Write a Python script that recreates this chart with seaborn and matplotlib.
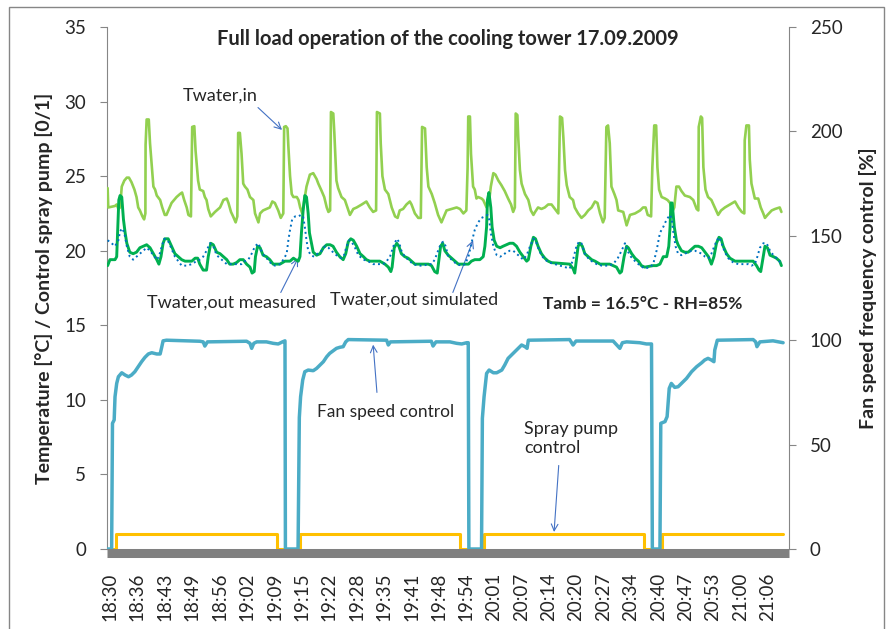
import matplotlib
matplotlib.use("Agg")
import matplotlib.pyplot as plt
import seaborn as sns
from matplotlib.patches import Rectangle

# time in minutes after 18:30
t_in = [-0.55, -0.4, 1.2, 1.6, 2.0, 2.4, 2.8, 3.4, 4.0, 4.5, 5.1, 5.8, 6.3, 6.7, 7.1, 7.7, 8.1, 8.4, 8.45, 8.7,
        9.2, 9.5, 10.3, 10.7, 11.1, 11.9, 12.4, 13.0, 13.4, 14.6, 15.8, 16.6, 17.1, 17.6, 18.2, 18.6, 19.2, 19.5,
        20.0, 20.3, 20.9, 21.3, 22.1, 22.5, 22.9, 23.3, 23.9, 24.9, 26.1, 26.9, 27.7, 28.1, 28.7, 29.2, 29.8,
        30.2, 30.4, 30.8, 31.2, 31.6, 32.0, 32.6, 33.2, 34.0, 34.4, 35.2, 35.6, 36.3, 37.1, 37.9, 38.5, 39.1,
        39.9, 40.5, 41.1, 41.3, 41.7, 42.1, 42.3, 42.7, 43.1, 43.5, 44.3, 44.7, 45.1, 45.6, 46.6, 47.4, 48.2,
        49.0, 49.4, 50.2, 50.8, 51.4, 51.8, 52.2, 52.4, 52.95, 53.2, 53.7, 54.1, 54.9, 55.7, 56.3, 56.9, 57.7,
        58.5, 59.7, 60.8, 61.6, 62.4, 63.1, 63.3, 64.0, 64.2, 64.6, 65.2, 66.0, 66.8, 67.6, 68.2, 68.7, 69.5,
        70.3, 71.1, 71.5, 72.3, 73.1, 73.7, 74.0, 74.7, 75.1, 75.5, 76.3, 77.0, 77.8, 78.6, 79.8, 81.0, 82.2,
        83.0, 83.8, 84.5, 84.8, 84.95, 85.35, 85.6, 86.1, 86.5, 86.9, 87.3, 88.1, 88.5, 89.3, 89.85, 90.3, 90.9,
        91.4, 92.1, 92.8, 93.6, 94.4, 95.1, 95.6, 96.0, 96.2, 96.6, 96.8, 97.2, 97.6, 98.4, 99.2, 99.8, 100.4,
        100.8, 101.5, 102.3, 103.1, 103.9, 104.7, 105.5, 106.3, 106.5, 106.7, 107.2, 107.5, 107.9, 108.3, 109.0,
        109.8, 110.2, 111.0, 111.8, 112.6, 113.4, 114.2, 115.0, 115.6, 116.2, 116.9, 117.3, 117.7, 118.1, 118.5,
        118.9, 119.6, 120.1, 120.5, 121.7, 122.5, 123.3, 124.5, 125.7, 126.4, 127.0, 127.5, 128.3, 128.6,
        129.05, 129.5, 129.8, 130.2, 130.8, 131.6, 132.2, 132.8, 133.3, 133.8, 134.3, 134.9, 135.5, 136.3,
        137.5, 138.3, 139.1, 139.5, 139.6, 140.1, 140.4, 140.7, 141.2, 141.8, 142.6, 143.4, 144.2, 144.9, 145.8,
        147.0, 148.2, 149.0, 149.8, 150.4, 150.5, 150.9, 151.5, 151.7, 152.1, 152.9, 153.7, 154.3, 154.9, 155.3,
        155.9, 156.9, 157.7, 158.8, 159.2]
T_in = [24.2, 22.9, 23.0, 23.1, 22.8, 22.9, 24.3, 24.7, 24.9, 24.9, 24.6, 24.1, 23.6, 22.9, 22.7, 22.3, 22.1, 22.5,
        27.1, 28.8, 28.8, 27.2, 24.3, 24.1, 23.7, 23.4, 22.9, 22.4, 22.4, 23.2, 23.6, 23.8, 23.9, 23.4, 22.9,
        22.4, 22.3, 28.3, 28.35, 26.7, 24.7, 24.1, 24.0, 23.6, 23.4, 22.8, 22.3, 22.6, 22.9, 23.4, 23.5, 23.2,
        22.6, 22.3, 21.9, 22.3, 27.9, 27.9, 26.5, 24.5, 24.3, 24.1, 23.6, 23.4, 22.5, 21.9, 22.5, 22.7, 22.8,
        22.9, 23.3, 23.2, 22.7, 22.2, 22.5, 28.3, 28.35, 28.2, 27.0, 25.0, 23.8, 23.6, 23.6, 23.4, 22.9, 22.5,
        24.3, 25.1, 25.2, 24.8, 24.5, 24.0, 23.6, 22.9, 22.6, 22.7, 29.3, 29.2, 27.9, 24.7, 24.2, 23.6, 23.4,
        22.9, 22.4, 22.8, 22.9, 23.1, 23.3, 22.9, 22.6, 22.7, 29.3, 29.2, 27.2, 25.0, 24.1, 23.8, 22.9, 22.3,
        22.2, 22.7, 22.8, 23.1, 23.3, 23.1, 22.5, 22.2, 22.2, 28.3, 28.2, 25.6, 24.3, 23.8, 23.2, 22.4, 21.9,
        22.7, 22.8, 22.9, 22.8, 22.5, 22.7, 25.6, 29.0, 29.0, 26.5, 24.3, 24.1, 23.5, 23.6, 23.5, 23.4, 22.9,
        23.2, 24.3, 25.2, 25.1, 24.7, 24.4, 24.0, 23.5, 23.1, 22.6, 22.9, 29.2, 29.1, 27.6, 25.4, 24.5, 23.8,
        23.4, 22.7, 22.4, 22.6, 22.9, 22.8, 22.9, 23.1, 23.1, 22.8, 22.5, 25.6, 29.0, 28.9, 27.6, 25.4, 24.4,
        23.6, 23.4, 22.9, 22.5, 22.2, 22.4, 22.7, 22.9, 23.3, 23.2, 22.5, 21.9, 22.2, 28.3, 28.4, 27.2, 24.3,
        23.8, 23.4, 22.7, 22.6, 21.7, 22.4, 22.5, 22.7, 22.9, 22.9, 22.4, 22.3, 25.6, 28.4, 28.4, 25.6, 24.1,
        23.6, 23.5, 23.4, 23.2, 22.6, 22.9, 24.3, 24.3, 24.0, 23.7, 23.6, 23.4, 22.8, 22.7, 28.3, 29.0, 28.9,
        25.6, 24.1, 23.6, 23.4, 22.9, 22.4, 22.7, 22.9, 23.1, 23.3, 22.9, 22.6, 22.5, 27.4, 28.4, 28.4, 26.1,
        24.5, 23.5, 23.5, 22.9, 22.5, 22.2, 22.4, 22.7, 22.8, 22.9, 22.6]

t_out = [-0.55, 0.0, 1.2, 1.6, 1.8, 2.1, 2.4, 2.8, 3.2, 3.6, 4.0, 4.7, 5.5, 6.3, 7.1, 7.9, 8.7, 9.5, 10.3, 11.1,
         11.6, 12.1, 12.6, 13.0, 13.8, 14.6, 15.4, 16.2, 17.0, 17.8, 19.4, 20.2, 20.8, 21.3, 22.1, 22.9, 23.3,
         23.9, 24.5, 25.3, 26.1, 26.9, 27.7, 28.4, 29.2, 30.0, 30.8, 31.6, 32.4, 33.2, 33.7, 34.2, 34.5, 35.0,
         35.6, 36.3, 37.1, 37.9, 38.7, 39.5, 40.3, 41.5, 42.7, 43.5, 44.0, 44.65, 45.05, 45.4, 45.8, 46.2, 46.6,
         47.0, 47.3, 47.65, 48.2, 49.0, 49.8, 50.6, 51.4, 52.2, 52.9, 53.7, 54.5, 55.3, 55.9, 56.5, 57.1, 57.7,
         58.5, 59.3, 60.1, 60.8, 61.6, 64.0, 65.2, 66.0, 66.6, 66.9, 67.4, 68.0, 68.5, 69.1, 69.9, 70.7, 71.5,
         72.3, 75.5, 76.25, 77.0, 77.6, 78.0, 78.4, 78.9, 79.4, 80.2, 81.0, 81.8, 82.6, 85.0, 85.7, 86.5, 87.7,
         88.5, 88.9, 89.3, 89.5, 89.85, 90.3, 90.6, 91.1, 91.7, 92.5, 93.2, 94.0, 94.8, 95.6, 96.4, 97.2, 98.0,
         98.8, 99.2, 99.8, 100.4, 100.9, 101.5, 102.3, 103.1, 103.9, 104.7, 109.0, 109.8, 110.2, 110.6, 111.0,
         111.4, 112.0, 112.6, 113.4, 114.2, 115.0, 116.2, 118.5, 119.3, 120.1, 120.9, 121.3, 121.9, 122.5, 122.9,
         123.7, 124.5, 125.3, 126.0, 126.8, 128.8, 129.6, 130.4, 131.2, 132.0, 132.5, 132.8, 133.0, 133.3, 133.8,
         134.3, 134.7, 135.5, 136.3, 137.1, 137.9, 138.7, 139.5, 140.3, 141.1, 141.9, 142.6, 143.2, 143.8, 144.4,
         144.9, 145.4, 146.2, 147.0, 148.2, 152.5, 153.3, 153.9, 154.3, 154.9, 155.3, 155.9, 156.5, 157.3, 158.0,
         158.8, 159.2]
T_out = [19.0, 19.4, 19.4, 19.6, 21.2, 23.4, 23.7, 23.6, 22.1, 21.2, 20.5, 19.9, 19.8, 19.9, 20.2, 20.3, 20.4, 20.2,
         19.8, 19.4, 19.1, 19.6, 20.5, 20.8, 20.8, 20.3, 19.8, 19.6, 19.4, 19.3, 19.3, 19.5, 19.5, 19.1, 18.7,
         18.7, 19.6, 20.5, 20.4, 19.9, 19.8, 19.6, 19.4, 19.1, 19.1, 19.2, 19.4, 19.4, 19.1, 18.9, 18.5, 18.6,
         19.6, 20.3, 20.2, 19.7, 19.6, 19.4, 19.1, 19.1, 19.1, 19.3, 19.3, 19.5, 19.4, 19.3, 19.6, 21.2, 22.7,
         23.7, 23.6, 22.5, 21.2, 20.7, 19.9, 19.7, 19.8, 20.2, 20.4, 20.4, 20.3, 19.9, 19.6, 19.4, 19.8, 20.6,
         20.8, 20.7, 20.3, 19.8, 19.6, 19.4, 19.3, 19.3, 19.1, 18.9, 18.6, 18.9, 20.2, 20.5, 20.3, 19.8, 19.6,
         19.5, 19.3, 19.1, 19.1, 19.0, 18.6, 18.5, 19.4, 20.3, 20.5, 20.0, 19.7, 19.5, 19.3, 19.1, 19.1, 19.3,
         19.4, 19.4, 19.6, 20.3, 21.6, 23.4, 23.9, 22.9, 21.6, 20.7, 20.3, 20.2, 20.3, 20.4, 20.5, 20.5, 20.3,
         19.9, 19.6, 19.3, 19.4, 20.3, 20.9, 20.8, 20.3, 19.8, 19.5, 19.3, 19.2, 19.1, 18.8, 18.5, 19.4, 20.3,
         20.5, 20.3, 19.8, 19.6, 19.4, 19.3, 19.1, 19.1, 19.0, 18.9, 18.5, 18.6, 19.6, 20.3, 20.2, 19.8, 19.5,
         19.3, 19.0, 18.9, 19.0, 19.0, 19.1, 19.6, 19.6, 20.3, 21.6, 23.2, 23.2, 21.6, 20.7, 20.4, 20.0, 19.9,
         19.9, 20.1, 20.3, 20.3, 20.2, 19.9, 19.6, 19.1, 19.6, 20.5, 20.9, 20.8, 20.3, 19.8, 19.5, 19.3, 19.3,
         19.0, 18.7, 18.6, 19.6, 20.3, 20.2, 19.7, 19.6, 19.5, 19.3, 19.0]

t_sim = [-0.55, 0.4, 1.2, 2.0, 2.4, 2.9, 3.4, 4.0, 4.7, 5.5, 6.3, 7.1, 7.9, 8.7, 9.5, 10.3, 11.1, 11.6, 12.3, 12.9,
         13.7, 14.5, 15.4, 16.2, 17.0, 18.2, 19.4, 20.5, 21.3, 22.1, 22.9, 23.7, 24.5, 25.3, 26.5, 27.7, 28.8,
         31.2, 32.0, 32.8, 33.6, 34.4, 35.2, 35.9, 36.7, 37.5, 38.3, 39.1, 40.3, 41.1, 41.9, 42.3, 42.7, 43.2,
         43.9, 44.65, 45.3, 45.8, 46.2, 46.6, 47.0, 47.65, 48.4, 49.2, 50.2, 51.0, 51.8, 52.5, 53.3, 54.1, 54.9,
         55.5, 56.1, 56.7, 57.3, 58.1, 58.9, 60.1, 61.2, 62.4, 64.8, 65.6, 66.4, 67.2, 68.0, 68.5, 69.1, 69.9,
         70.7, 71.9, 73.1, 74.3, 75.5, 76.3, 77.0, 77.8, 78.5, 79.0, 79.6, 80.2, 81.0, 82.2, 83.4, 84.2, 85.0,
         85.7, 86.5, 87.3, 88.1, 88.9, 89.5, 89.9, 90.3, 90.9, 91.7, 92.5, 93.2, 94.0, 94.8, 95.6, 96.4, 97.2,
         98.0, 98.8, 99.6, 100.4, 100.9, 101.5, 102.3, 103.1, 104.3, 105.5, 106.7, 107.9, 109.0, 109.8, 110.6,
         111.2, 111.8, 112.6, 113.4, 114.2, 115.4, 116.6, 118.1, 119.3, 120.4, 121.3, 122.1, 122.7, 123.5, 124.5,
         125.7, 126.8, 128.0, 128.8, 129.6, 130.4, 131.2, 132.0, 132.8, 133.2, 133.6, 134.1, 134.7, 135.5, 136.3,
         137.1, 137.9, 138.7, 139.5, 140.3, 141.1, 141.9, 142.6, 143.3, 143.9, 144.4, 145.0, 145.8, 146.6, 147.8,
         149.0, 151.3, 152.1, 152.9, 153.5, 154.1, 154.9, 155.7, 156.5, 157.3, 158.4, 159.2]
T_sim = [20.7, 20.5, 20.3, 20.7, 21.3, 21.5, 21.2, 20.3, 19.6, 19.4, 19.6, 19.8, 20.0, 20.2, 20.0, 19.7, 19.4, 19.6,
         20.3, 20.8, 20.7, 20.2, 19.6, 19.3, 19.0, 19.0, 19.1, 19.3, 19.4, 19.6, 20.0, 20.5, 20.3, 19.7, 19.4,
         19.1, 19.1, 19.1, 19.3, 19.4, 19.8, 20.3, 20.5, 20.0, 19.6, 19.4, 19.1, 19.0, 19.1, 19.4, 19.8, 20.7,
         21.4, 22.1, 22.3, 22.3, 22.4, 22.3, 21.6, 20.7, 20.0, 19.7, 19.6, 19.8, 20.0, 20.3, 20.2, 20.0, 19.8,
         19.6, 19.5, 19.7, 20.3, 20.7, 20.6, 20.2, 19.7, 19.4, 19.3, 19.1, 19.1, 19.3, 19.6, 20.3, 20.8, 20.6,
         20.0, 19.6, 19.4, 19.1, 19.0, 19.0, 19.1, 19.1, 19.4, 20.0, 20.5, 20.6, 20.3, 19.6, 19.4, 19.1, 19.0,
         19.1, 19.6, 20.5, 21.4, 21.9, 22.2, 22.3, 22.4, 22.1, 21.2, 20.3, 19.7, 19.6, 19.7, 19.9, 20.0, 20.0,
         19.8, 19.6, 19.4, 19.7, 20.3, 20.8, 20.7, 20.2, 19.7, 19.4, 19.2, 19.1, 19.0, 18.9, 18.8, 19.4, 20.3,
         20.6, 20.5, 19.8, 19.5, 19.3, 19.1, 19.0, 19.0, 19.1, 19.5, 20.0, 20.5, 20.0, 19.6, 19.3, 19.0, 18.8,
         18.9, 19.1, 20.0, 21.2, 21.6, 22.1, 22.4, 22.1, 21.2, 20.3, 19.8, 19.7, 19.8, 19.9, 20.0, 20.0, 19.9,
         19.8, 19.6, 19.5, 19.8, 20.3, 20.7, 20.9, 20.5, 19.9, 19.5, 19.2, 19.1, 19.1, 19.0, 19.1, 19.6, 20.2,
         20.5, 20.5, 20.0, 19.7, 19.4, 19.1]

t_fan = [-0.8, 0.4, 0.6, 1.0, 1.2, 1.6, 2.0, 2.8, 3.6, 4.4, 5.1, 5.9, 6.7, 7.5, 8.3, 9.1, 9.9, 11.1, 11.9, 12.3,
         12.6, 13.4, 21.3, 22.1, 22.5, 23.1, 32.4, 33.2, 33.6, 34.1, 34.8, 37.1, 38.7, 39.9, 40.9, 41.5, 41.6,
         44.6, 44.9, 45.2, 45.7, 46.2, 47.0, 48.2, 49.0, 49.8, 50.6, 51.4, 52.1, 52.9, 53.7, 54.5, 55.3, 55.9,
         56.5, 65.6, 66.0, 66.5, 76.2, 76.6, 77.3, 80.6, 82.2, 83.4, 84.6, 84.95, 85.1, 88.1, 88.3, 88.7, 89.3,
         89.9, 90.9, 91.7, 92.9, 93.6, 94.4, 95.2, 96.4, 97.6, 98.4, 98.9, 99.2, 109.0, 109.8, 110.5, 119.3,
         120.9, 121.5, 122.5, 125.6, 127.2, 128.4, 128.6, 130.4, 130.6, 131.6, 132.1, 132.6, 133.1, 133.9, 134.7,
         135.5, 136.7, 137.9, 139.1, 140.3, 141.0, 141.8, 142.6, 143.2, 143.4, 144.0, 152.5, 153.1, 153.4, 154.1,
         157.2, 159.6]
fan_pct = [0, 0, 60.2, 61.8, 72.9, 79.3, 82.5, 84.4, 83.3, 82.5, 83.3, 84.9, 87.3, 89.7, 91.8, 93.4, 94.0, 93.4,
           93.4, 96.9, 99.7, 100.0, 99.5, 99.2, 97.2, 99.2, 99.5, 98.5, 96.1, 98.5, 99.2, 99.2, 98.5, 98.2, 99.2,
           99.7, 0, 0, 63.0, 72.9, 80.9, 84.9, 85.7, 85.4, 86.5, 88.1, 89.7, 92.1, 93.7, 94.9, 96.1, 96.6, 96.9,
           99.2, 100.3, 100.0, 97.7, 99.2, 99.5, 97.2, 99.2, 99.2, 98.5, 98.2, 98.8, 98.8, 0, 0, 62.6, 72.9, 84.1,
           85.7, 84.4, 84.4, 85.7, 88.1, 91.3, 92.9, 95.3, 97.7, 96.9, 96.1, 100.0, 100.3, 97.7, 99.6, 99.6, 96.1,
           98.8, 99.2, 98.8, 98.2, 98.2, 0, 0, 60.2, 61.0, 63.4, 76.9, 79.3, 77.4, 77.7, 79.3, 81.7, 84.9, 87.3,
           89.2, 90.5, 91.3, 90.5, 89.7, 95.3, 100.0, 100.3, 99.2, 96.9, 99.2, 99.7, 98.8]

t_pump = [-0.8, 1.4, 39.7, 45.0, 83.1, 88.7, 126.6, 131.0, 159.6]
pump = [0, 1, 0, 1, 0, 1, 0, 1, 1]

time_labels = ['18:30', '18:36', '18:43', '18:49', '18:56', '19:02', '19:09', '19:15', '19:22', '19:28',
               '19:35', '19:41', '19:48', '19:54', '20:01', '20:07', '20:14', '20:20', '20:27', '20:34',
               '20:40', '20:47', '20:53', '21:00', '21:06']
tick_step = 6.5

sns.set_style("white")
plt.rcParams['font.family'] = ['Lato', 'DejaVu Sans']

grey = '#868686'
arrow_c = '#4472C4'

fig = plt.figure(figsize=(8.86, 6.29), dpi=100)
ax = fig.add_axes([107 / 886, 80 / 629, 682 / 886, 522 / 629])
ax2 = ax.twinx()

sns.lineplot(x=t_pump, y=pump, ax=ax, color='#FFC000', lw=2.2, drawstyle='steps-post',
             estimator=None, sort=False, zorder=3)
sns.lineplot(x=t_in, y=T_in, ax=ax, color='#92D050', lw=1.9, estimator=None, sort=False, zorder=3)
sns.lineplot(x=t_out, y=T_out, ax=ax, color='#00B050', lw=2.1, estimator=None, sort=False, zorder=4)
sns.lineplot(x=t_sim, y=T_sim, ax=ax, color='#0070C0', lw=1.4, linestyle=':', estimator=None, sort=False, zorder=5)
sns.lineplot(x=t_fan, y=fan_pct, ax=ax2, color='#4BACC6', lw=2.5, estimator=None, sort=False, zorder=3)

ax.set_xlim(-0.7, 161)
ax.set_ylim(0, 35)
ax2.set_ylim(0, 250)
ax.set_yticks(range(0, 36, 5))
ax2.set_yticks(range(0, 251, 50))
ax.set_xticks([i * tick_step for i in range(len(time_labels))])
ax.set_xticklabels(time_labels)
ax.tick_params(axis='x', length=0, pad=14, labelsize=13.5, labelrotation=90)
for a in (ax, ax2):
    a.tick_params(axis='y', direction='out', length=5, width=0.8, color=grey, pad=10, labelsize=13.5)
    a.set_xlabel('')

for s in ['top', 'right']:
    ax.spines[s].set_visible(False)
for s in ['top', 'left', 'bottom']:
    ax2.spines[s].set_visible(False)
ax.spines['left'].set_color(grey)
ax.spines['left'].set_linewidth(0.8)
ax2.spines['right'].set_color(grey)
ax2.spines['right'].set_linewidth(0.8)
ax.spines['bottom'].set_color('#808080')
ax.spines['bottom'].set_linewidth(6.5)
ax.spines['bottom'].set_capstyle('butt')
ax.spines['bottom'].set_position(('outward', 3))

ax.set_ylabel('Temperature [°C] / Control spray pump [0/1]', fontsize=14, fontweight='bold')
ax.yaxis.set_label_coords(-0.092, 0.5)
ax.yaxis.label.set_va('center')
ax2.set_ylabel('Fan speed frequency control [%]', fontsize=14, fontweight='bold')
ax2.yaxis.set_label_coords(1.116, 0.5)
ax2.yaxis.label.set_va('center')

ax.text(0.5, 0.977, 'Full load operation of the cooling tower 17.09.2009', transform=ax.transAxes,
        ha='center', va='center', fontsize=14.5, fontweight='bold')

# annotations
ax.text(26.1, 30.4, 'Twater,in', ha='center', va='center', fontsize=13)
ax.text(28.9, 16.55, 'Twater,out measured', ha='center', va='center', fontsize=13)
ax.text(72.1, 16.75, 'Twater,out simulated', ha='center', va='center', fontsize=13)
ax.text(126.4, 16.4, 'Tamb = 16.5°C - RH=85%', ha='center', va='center', fontsize=12.5, fontweight='bold')
ax.text(65.4, 9.2, 'Fan speed control', ha='center', va='center', fontsize=12.5)
ax.text(98.2, 7.4, 'Spray pump\ncontrol', ha='left', va='center', fontsize=13, linespacing=1.2)

arrows = [((35.1, 29.6), (40.8, 28.1)),
          ((40.5, 17.2), (44.6, 19.5)),
          ((81.3, 17.2), (86.1, 20.7)),
          ((63.3, 10.5), (62.4, 13.7)),
          ((106.4, 5.6), (105.3, 1.14))]
for tail, tip in arrows:
    ax.annotate('', xy=tip, xytext=tail,
                arrowprops=dict(arrowstyle='->', color=arrow_c, lw=0.8, shrinkA=0, shrinkB=0,
                                mutation_scale=12))

fig.patches.append(Rectangle((9 / 886, -0.01), 875 / 886, 1.01 - 7 / 629, transform=fig.transFigure,
                             fill=False, edgecolor=grey, lw=1.0))

fig.savefig('out.png', dpi=100)
